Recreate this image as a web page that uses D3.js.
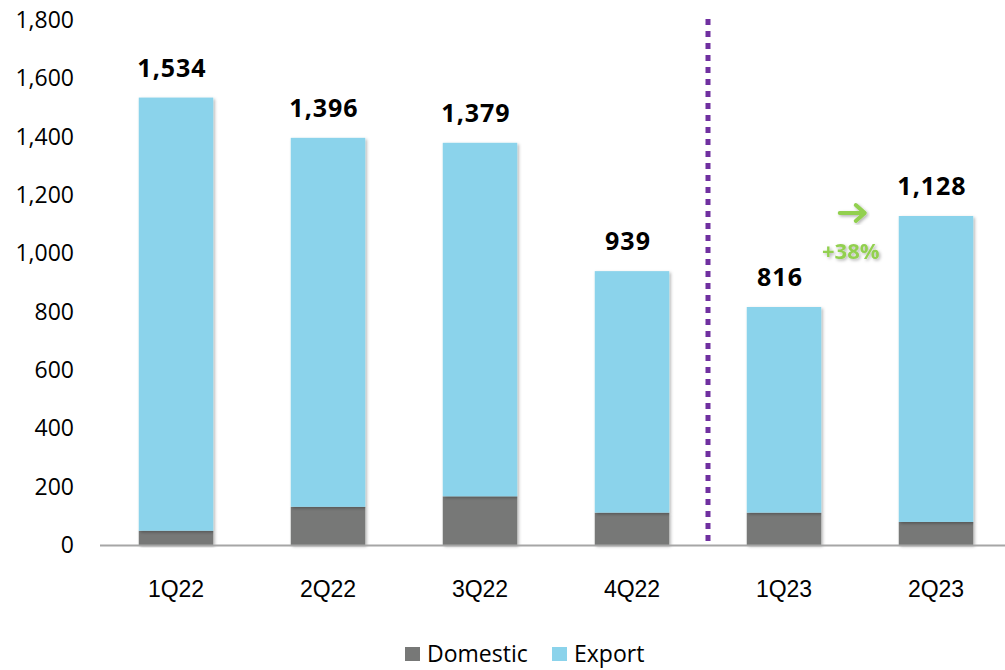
<!DOCTYPE html>
<html>
<head>
<meta charset="utf-8">
<script src="https://cdn.jsdelivr.net/npm/d3@7"></script>
<style>
  body { margin: 0; background: #fff; }
  svg { display: block; }
</style>
</head>
<body>
<svg id="chart" width="1005" height="670"></svg>
<script>
// quarters and values (units)
const quarters = ["1Q22", "2Q22", "3Q22", "4Q22", "1Q23", "2Q23"];
const domestic = [49, 131, 167, 111, 111, 79];
const exportVals = [1485, 1265, 1212, 828, 705, 1049];
const totals = [1534, 1396, 1379, 939, 816, 1128];
const yTicks = [0, 200, 400, 600, 800, 1000, 1200, 1400, 1600, 1800];
const growthLabel = "+38%";

const colors = { Domestic: "#777877", Export: "#8bd3eb" };

const svg = d3.select("#chart");
const defs = svg.append("defs");
const shadow = defs.append("filter").attr("id", "shadow")
  .attr("x", "-20%").attr("y", "-20%").attr("width", "140%").attr("height", "140%");
shadow.append("feDropShadow").attr("dx", 1.5).attr("dy", 1.5)
  .attr("stdDeviation", 1.5).attr("flood-color", "#000").attr("flood-opacity", 0.3);

const x = d3.scaleBand().domain(quarters).range([100, 1012]).paddingInner(0.51).paddingOuter(0.255);
const y = d3.scaleLinear().domain([0, 1800]).range([545, 20]);

const rows = quarters.map((q, i) => ({ q, Domestic: domestic[i], Export: exportVals[i], total: totals[i] }));
const stack = d3.stack().keys(["Domestic", "Export"])(rows);

// y axis labels (no line)
const yAxis = svg.append("g")
  .attr("transform", "translate(77,0)")
  .call(d3.axisLeft(y).tickValues(yTicks).tickSize(0).tickPadding(0).tickFormat(d3.format(",")));
yAxis.select(".domain").remove();
yAxis.selectAll("text")
  .attr("font-family", "'Open Sans', sans-serif")
  .attr("font-size", 23)
  .attr("fill", "#000")
  .attr("dx", -3);

// bars
svg.append("g").selectAll("g")
  .data(stack).join("g")
  .attr("fill", d => colors[d.key])
  .selectAll("rect")
  .data(d => d).join("rect")
  .attr("x", d => x(d.data.q))
  .attr("y", d => y(d[1]))
  .attr("width", x.bandwidth())
  .attr("height", d => y(d[0]) - y(d[1]))
  .attr("filter", "url(#shadow)");

// baseline
svg.append("line")
  .attr("x1", 100).attr("x2", 1005)
  .attr("y1", y(0) + 0.5).attr("y2", y(0) + 0.5)
  .attr("stroke", "#a6a6a6").attr("stroke-width", 2);

// x axis labels
const xAxis = svg.append("g")
  .attr("transform", `translate(0,${y(0)})`)
  .call(d3.axisBottom(x).tickSize(0).tickPadding(36));
xAxis.select(".domain").remove();
xAxis.selectAll("text")
  .attr("font-family", "'Liberation Sans', Arial, sans-serif")
  .attr("font-size", 23)
  .attr("fill", "#000");

// total labels (sit slightly left of bar centre, as in the original)
svg.append("g").selectAll("text")
  .data(rows).join("text")
  .attr("x", d => x(d.q) + x.bandwidth() / 2 - 4)
  .attr("y", d => y(d.total) - 21)
  .attr("text-anchor", "middle")
  .attr("font-family", "'Open Sans', sans-serif")
  .attr("font-weight", "bold")
  .attr("font-size", 25)
  .attr("letter-spacing", 1)
  .attr("fill", "#000")
  .text(d => d3.format(",")(d.total));

// dotted separator between 4Q22 and 1Q23
const sepX = (x("4Q22") + x.bandwidth() + x("1Q23")) / 2;
svg.append("line")
  .attr("x1", sepX).attr("x2", sepX)
  .attr("y1", 19).attr("y2", y(0) - 1)
  .attr("stroke", "#7030a0").attr("stroke-width", 5)
  .attr("stroke-dasharray", "6,6");

// growth annotation next to 2Q23
const ax = x("2Q23") - 47;
const ay = y(totals[5]) - 3;
const arrow = svg.append("g").attr("filter", "url(#shadow)")
  .attr("stroke", "#92d050").attr("stroke-width", 4).attr("fill", "none")
  .attr("stroke-linecap", "round").attr("stroke-linejoin", "round");
arrow.append("line").attr("x1", ax - 12).attr("x2", ax + 12).attr("y1", ay).attr("y2", ay);
arrow.append("polyline").attr("points", `${ax + 4},${ay - 8} ${ax + 13},${ay} ${ax + 4},${ay + 8}`);

svg.append("text")
  .attr("x", ax - 1).attr("y", ay + 46)
  .attr("text-anchor", "middle")
  .attr("font-family", "'Open Sans', sans-serif")
  .attr("font-weight", "bold")
  .attr("font-size", 22)
  .attr("fill", "#92d050")
  .attr("filter", "url(#shadow)")
  .text(growthLabel);

// legend
const legend = svg.append("g").attr("transform", "translate(405,647)");
const legendItems = [{ key: "Domestic", dx: 0 }, { key: "Export", dx: 147 }];
const li = legend.selectAll("g").data(legendItems).join("g")
  .attr("transform", d => `translate(${d.dx},0)`);
li.append("rect").attr("width", 15).attr("height", 14).attr("fill", d => colors[d.key]);
li.append("text")
  .attr("x", 22).attr("y", 15)
  .attr("font-family", "'Open Sans', sans-serif")
  .attr("font-size", 23)
  .attr("fill", "#000")
  .text(d => d.key);
</script>
</body>
</html>
